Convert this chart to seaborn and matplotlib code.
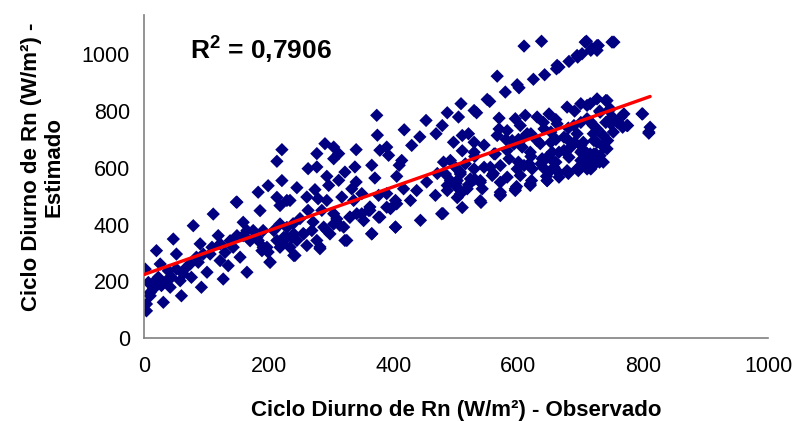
import numpy as np
import pandas as pd
import matplotlib
matplotlib.use("Agg")
import matplotlib.pyplot as plt
import seaborn as sns

# ---- data (W/m²) ----
# left zone (observed < ~235)
obs_a = [2, 4, 4, 10, 15, 7, 23, 20, 26, 31, 42, 47, 52, 39, 60, 58, 68, 76, 79, 87,
         90, 92, 101, 106, 111, 119, 122, 127, 135, 143, 149, 154, 159, 165, 170, 183,
         186, 189, 197, 199, 202, 213, 218, 224, 229, 240,
         10, 18, 28, 36, 44, 52, 63, 74, 84, 95, 109, 122, 130, 138, 149, 159, 165, 175,
         181, 191, 208, 218, 229, 221, 213, 221, 218, 148]
est_a = [243, 96, 120, 149, 173, 196, 214, 308, 261, 126, 179, 349, 296, 237, 149, 202,
         249, 214, 396, 267, 332, 179, 232, 296, 437, 361, 273, 208, 255, 320, 479, 285,
         408, 232, 343, 514, 449, 308, 320, 537, 267, 496, 320, 355, 485, 367,
         161, 202, 185, 202, 214, 243, 226, 261, 285, 296, 320, 332, 302, 343, 361, 361,
         379, 379, 355, 379, 379, 402, 390, 664, 623, 555, 467, 479]

# middle zone (observed ~235 - 475)
obs_b = [373, 452, 417, 374, 442, 468, 429, 378, 389, 392, 290, 304, 277, 312, 304, 340,
         413, 409, 365, 263, 277, 338, 322, 293, 370, 405, 312, 340, 245, 296, 333, 453,
         274, 416, 437, 349, 376, 389, 403, 427, 467, 234, 261, 279, 293, 317, 336, 362,
         395, 263, 285, 304, 330, 349, 378, 250, 239, 271, 314, 360, 443, 477, 403, 365,
         293, 255, 237, 322, 282, 242]
est_b = [785, 767, 734, 715, 709, 720, 679, 662, 673, 644, 685, 673, 650, 650, 632, 664,
         626, 609, 609, 597, 603, 603, 585, 570, 564, 570, 556, 550, 530, 538, 526, 550,
         523, 526, 520, 509, 503, 509, 485, 485, 503, 485, 497, 491, 485, 497, 485, 462,
         456, 450, 450, 438, 426, 438, 426, 421, 403, 409, 397, 450, 415, 438, 391, 368,
         379, 368, 356, 344, 321, 291]

# lower band between 180 and 410
obs_f = [183, 191, 199, 202, 213, 221, 229, 234, 240, 245, 256, 261, 269, 277, 282, 288,
         298, 304, 309, 320, 325, 330, 341, 352, 362, 365, 376, 389, 403, 405]
est_f = [344, 320, 303, 268, 344, 332, 355, 320, 291, 344, 367, 326, 379, 344, 315, 391,
         367, 402, 420, 391, 344, 426, 438, 414, 450, 367, 426, 461, 391, 473]

# right zone: upper band
obs_c = [609, 637, 709, 726, 695, 681, 665, 661, 642, 624, 598, 579, 566, 550, 529, 508,
         486, 504, 478, 601, 554, 533, 726, 707, 728, 753, 702, 718, 750, 716, 694, 662]
est_c = [1029, 1046, 1046, 1031, 990, 975, 955, 949, 928, 912, 893, 867, 923, 841, 802,
         826, 794, 779, 749, 882, 834, 794, 1014, 1043, 1031, 1043, 1002, 1020, 1043, 1014,
         996, 961]

# right zone: main dense band
obs_d = [726, 710, 700, 678, 569, 595, 611, 630, 649, 603, 569, 510, 496, 529, 566, 614,
         652, 689, 716, 726, 635, 590, 678, 700, 721, 491, 515, 529, 563, 582, 606, 619,
         654, 673, 700, 724, 545, 571, 585, 598, 617, 638, 657, 681, 700, 718, 507, 502,
         523, 539, 558, 582, 603, 622, 649, 678, 694, 716, 486, 518, 542, 571, 595, 619,
         646, 665, 798, 811, 809, 769, 774, 758, 742, 715, 731, 747, 752, 736, 720, 710,
         704, 726, 742, 731, 715, 704, 720, 710, 736, 702, 740, 745, 764, 775, 799, 809,
         582, 641, 662, 748, 767, 593, 609, 630, 652, 673, 694, 561, 646, 665, 684, 705,
         743, 609, 636, 657, 700, 721, 737, 539, 595, 619, 646, 697, 710, 491, 507, 529,
         555, 483, 507, 502, 571, 486, 500, 520, 530,
         600, 620, 640, 660, 680, 700, 720, 690, 710, 730, 620, 640, 560, 530, 545, 510,
         580, 600, 660, 680, 750, 760, 740, 730, 690, 660, 520, 500, 480, 470]
est_d = [843, 820, 826, 814, 775, 773, 785, 779, 790, 749, 737, 714, 690, 690, 714, 720,
         726, 749, 761, 737, 685, 696, 702, 679, 696, 626, 614, 655, 649, 661, 673, 655,
         655, 661, 655, 649, 602, 608, 632, 596, 614, 632, 620, 637, 602, 632, 585, 555,
         561, 549, 573, 567, 573, 596, 585, 590, 596, 596, 538, 526, 526, 514, 526, 538,
         555, 567, 790, 743, 726, 790, 749, 761, 837, 826, 796, 808, 726, 714, 749, 773,
         690, 690, 667, 643, 649, 620, 608, 596, 620, 661, 837, 802, 778, 749, 790, 722,
         731, 737, 755, 755, 743, 684, 708, 696, 690, 708, 720, 649, 637, 655, 673, 661,
         696, 608, 614, 602, 626, 649, 673, 555, 520, 543, 555, 596, 614, 555, 578, 596,
         602, 578, 508, 531, 549, 520, 545, 540, 560,
         700, 720, 760, 700, 740, 760, 720, 690, 650, 620, 640, 600, 580, 640, 680, 660,
         700, 620, 620, 580, 780, 760, 760, 800, 800, 770, 720, 600, 620, 580]

# right zone: lowest band
obs_e = [479, 510, 540, 571, 597, 621, 645, 664, 696, 502, 539, 571]
est_e = [439, 460, 478, 506, 534, 555, 570, 584, 590, 495, 484, 502]

# linear fit
fit_intercept = 224.0
fit_slope = 0.7735
fit_x_end = 811
r2_text = "0,7906"

x_ticks = [0, 200, 400, 600, 800, 1000]
y_ticks = [0, 200, 400, 600, 800, 1000]

df = pd.DataFrame({
    "obs": obs_a + obs_b + obs_f + obs_c + obs_d + obs_e,
    "est": est_a + est_b + est_f + est_c + est_d + est_e,
})
fit_x = np.array([0, fit_x_end])
fit_df = pd.DataFrame({"x": fit_x, "y": fit_intercept + fit_slope * fit_x})

sns.set_style("white")
plt.rcParams["font.family"] = ["Liberation Sans", "DejaVu Sans"]
plt.rcParams["mathtext.fontset"] = "custom"
plt.rcParams["mathtext.rm"] = "Liberation Sans"
plt.rcParams["mathtext.bf"] = "Liberation Sans:bold"
plt.rcParams["text.color"] = "black"
plt.rcParams["axes.labelcolor"] = "black"

fig = plt.figure(figsize=(7.95, 4.21), dpi=100)
ax = fig.add_axes([0.1811, 0.197, 0.785, 0.767])

sns.scatterplot(data=df, x="obs", y="est", ax=ax, marker="D", s=46,
                color="#000080", edgecolor="none", linewidth=0, zorder=2)
sns.lineplot(data=fit_df, x="x", y="y", ax=ax, color="#ff0000", linewidth=2.4,
             zorder=3)

ax.set_xlim(0, 1000)
ax.set_ylim(0, 1138)
ax.set_xticks(x_ticks)
ax.set_yticks(y_ticks)
ax.set_xticklabels([str(v) for v in x_ticks])
ax.set_yticklabels([str(v) for v in y_ticks])

for side in ["top", "right"]:
    ax.spines[side].set_visible(False)
for side in ["left", "bottom"]:
    ax.spines[side].set_color("#808080")
    ax.spines[side].set_linewidth(1.2)
ax.tick_params(axis="both", which="major", direction="out", length=5, width=1,
               color="#808080", labelsize=15.5, labelcolor="black")
ax.tick_params(axis="x", pad=8)
ax.tick_params(axis="y", pad=5)

ax.set_xlabel("Ciclo Diurno de Rn (W/m²) - Observado", fontsize=16,
              fontweight="bold", color="black")
ax.set_ylabel("Ciclo Diurno de Rn (W/m²) -\nEstimado", fontsize=16,
              fontweight="bold", linespacing=1.05, color="black")
ax.xaxis.set_label_coords(0.5, -0.225)
ax.xaxis.label.set_va("center")
ax.yaxis.set_label_coords(-0.162, 0.53)
ax.yaxis.label.set_va("center")

ax.text(74, 980, r"$\mathbf{R^{2}}$" + r" = " + r2_text, fontsize=19,
        fontweight="bold", ha="left", va="baseline", color="black")

fig.savefig("out.png", dpi=100)
